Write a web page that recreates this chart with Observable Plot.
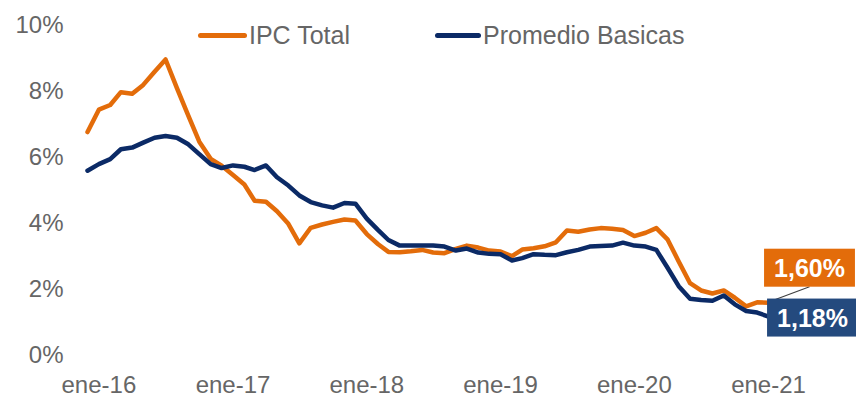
<!DOCTYPE html>
<html>
<head>
<meta charset="utf-8">
<script src="https://cdn.jsdelivr.net/npm/d3@7"></script>
<script src="https://cdn.jsdelivr.net/npm/@observablehq/plot@0.6"></script>
<style>
  body { margin: 0; background: #fff; }
  #wrap { position: relative; width: 856px; height: 401px; overflow: hidden; }
  .leg { position: absolute; display: flex; align-items: center; font-family: "Liberation Sans", Arial, sans-serif; font-size: 25px; color: #666666; white-space: nowrap; }
  .sw { display: inline-block; height: 5px; border-radius: 2.5px; margin-right: 2px; }
</style>
</head>
<body>
<div id="wrap">
  <div class="leg" style="left:198px;top:21px;"><span class="sw" style="width:49px;background:#E36C0A"></span><span>IPC Total</span></div>
  <div class="leg" style="left:435px;top:21px;"><span class="sw" style="width:46px;background:#0B2A66"></span><span>Promedio Basicas</span></div>
</div>
<script>
// Monthly series, Dec 2015 .. Jan 2021
const firstMonth = "2015-12";
const lastMonth = "2021-01";
const ipcTotal = [
  6.77,
  7.45, 7.59, 7.98, 7.93, 8.20, 8.60, 8.97, 8.10, 7.27, 6.48, 5.96, 5.75,
  5.47, 5.18, 4.69, 4.66, 4.37, 3.99, 3.40, 3.87, 3.97, 4.05, 4.12, 4.09,
  3.68, 3.37, 3.14, 3.13, 3.16, 3.20, 3.12, 3.10, 3.23, 3.33, 3.27, 3.18,
  3.15, 3.01, 3.21, 3.25, 3.31, 3.43, 3.79, 3.75, 3.82, 3.86, 3.84, 3.80,
  3.62, 3.72, 3.86, 3.51, 2.85, 2.19, 1.97, 1.88, 1.97, 1.75, 1.49, 1.61,
  1.60
];
const promedioBasicas = [
  5.60,
  5.80, 5.95, 6.25, 6.30, 6.45, 6.60, 6.65, 6.60, 6.40, 6.10, 5.80, 5.68,
  5.76, 5.72, 5.62, 5.76, 5.40, 5.15, 4.85, 4.65, 4.55, 4.48, 4.62, 4.60,
  4.15, 3.80, 3.50, 3.33, 3.33, 3.33, 3.33, 3.30, 3.18, 3.24, 3.12, 3.08,
  3.07, 2.88, 2.95, 3.07, 3.05, 3.04, 3.13, 3.20, 3.30, 3.32, 3.33, 3.42,
  3.33, 3.30, 3.20, 2.65, 2.10, 1.72, 1.68, 1.66, 1.82, 1.55, 1.35, 1.30,
  1.18
];
const seriesNames = ["IPC Total", "Promedio Basicas"];
const endLabels = ["1,60%", "1,18%"];
const xTickDates = ["2016-01", "2017-01", "2018-01", "2019-01", "2020-01", "2021-01"];
const xTickLabels = ["ene-16", "ene-17", "ene-18", "ene-19", "ene-20", "ene-21"];
const yTicks = [0, 2, 4, 6, 8, 10];

const orange = "#E36C0A";
const navy = "#0B2A66";
const boxBlue = "#244A7E";
const axisGray = "#666666";
const font = "'Liberation Sans', Arial, sans-serif";

const parseM = d3.utcParse("%Y-%m");
const months = d3.utcMonth.range(parseM(firstMonth), d3.utcMonth.offset(parseM(lastMonth), 1));
const data = months.map((date, i) => ({date, ipc: ipcTotal[i], bas: promedioBasicas[i]}));
const tickDates = xTickDates.map(parseM);
const tickLabelMap = new Map(tickDates.map((d, i) => [+d, xTickLabels[i]]));
const last = data[data.length - 1];

const plot = Plot.plot({
  width: 856,
  height: 401,
  marginLeft: 87,
  marginRight: 88,
  marginTop: 25,
  marginBottom: 46,
  style: {fontFamily: font, background: "transparent", overflow: "visible"},
  x: {type: "utc", domain: [months[0], months[months.length - 1]]},
  y: {domain: [0, 10]},
  marks: [
    Plot.axisY({ticks: yTicks, tickSize: 0, tickPadding: 24, tickFormat: d => d + "%", fontSize: 24, fill: axisGray, label: null}),
    Plot.axisX({ticks: tickDates, tickSize: 0, tickPadding: 20, tickFormat: d => tickLabelMap.get(+d), fontSize: 24, fill: axisGray, label: null}),
    Plot.lineY(data, {x: "date", y: "ipc", stroke: orange, strokeWidth: 4.5, strokeLinejoin: "round", strokeLinecap: "round"}),
    Plot.lineY(data, {x: "date", y: "bas", stroke: navy, strokeWidth: 4.5, strokeLinejoin: "round", strokeLinecap: "round"}),
    Plot.text([last], {x: "date", y: "ipc", text: () => endLabels[0], dx: 41, dy: -34, fill: "white", fontSize: 25, fontWeight: "bold"}),
    Plot.text([last], {x: "date", y: "bas", text: () => endLabels[1], dx: 44, dy: 2, fill: "white", fontSize: 25, fontWeight: "bold"})
  ]
});

const wrap = document.getElementById("wrap");
wrap.insertBefore(plot, wrap.firstChild);
plot.style.position = "absolute";
plot.style.left = "0px";
plot.style.top = "0px";

// boxes behind end labels + leader line
const sx = plot.scale("x"), sy = plot.scale("y");
const svg = d3.select(plot);
const boxColors = {"1,60%": orange, "1,18%": boxBlue};
svg.selectAll("text").each(function() {
  const t = this.textContent;
  if (boxColors[t]) {
    const b = this.getBBox();
    const g = this.parentNode;
    const padX = 10, padY = 6;
    const r = document.createElementNS("http://www.w3.org/2000/svg", "rect");
    r.setAttribute("x", b.x - padX);
    r.setAttribute("y", b.y - padY + 1);
    r.setAttribute("width", b.width + 2 * padX);
    r.setAttribute("height", b.height + 2 * padY - 2);
    r.setAttribute("fill", boxColors[t]);
    const tr = this.getAttribute("transform");
    if (tr) r.setAttribute("transform", tr);
    g.insertBefore(r, this);
  }
});
// leader from orange series end to its label box
const px = sx.apply(last.date), py = sy.apply(last.ipc);
const ob = document.evaluate("//*[local-name()='text' and text()='1,60%']", plot, null, XPathResult.FIRST_ORDERED_NODE_TYPE, null).singleNodeValue;
if (ob) {
  const bb = ob.getBoundingClientRect();
  const sb = plot.getBoundingClientRect();
  const bx = bb.left - sb.left + bb.width / 2, by = bb.bottom - sb.top + 5;
  svg.append("line")
    .attr("x1", px).attr("y1", py).attr("x2", bx).attr("y2", by)
    .attr("stroke", "#404040").attr("stroke-width", 1.2).lower();
}
</script>
</body>
</html>
